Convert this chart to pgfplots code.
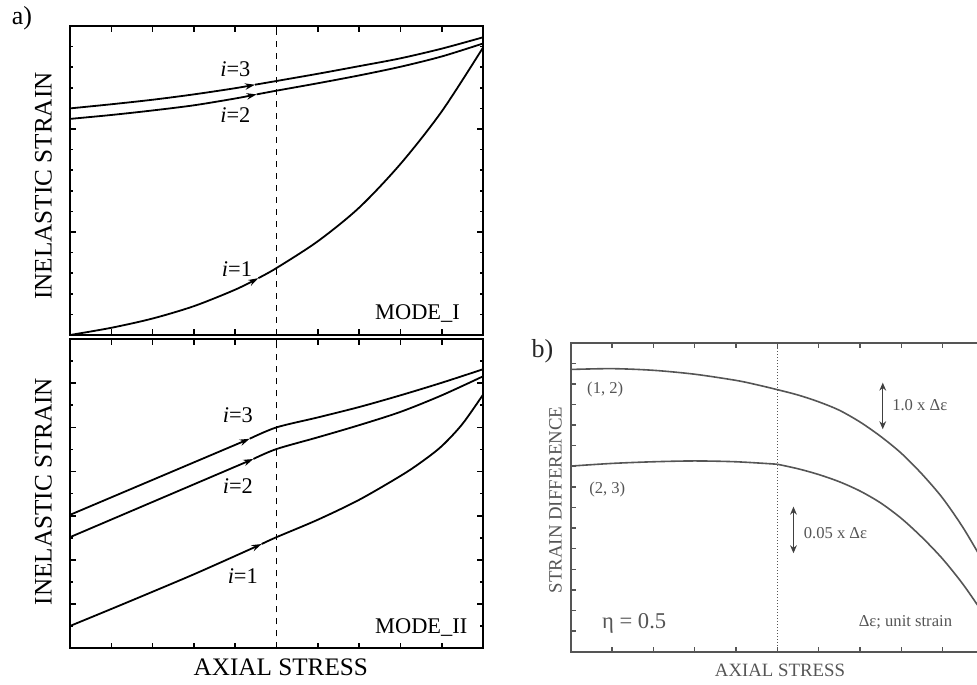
\documentclass[border=0pt]{standalone}
\usepackage{pgfplots}
\pgfplotsset{compat=1.18}
\usepackage{fontspec}
\setmainfont{Liberation Serif}
\usetikzlibrary{arrows.meta}
\definecolor{bgray}{RGB}{85,85,85}
\pgfplotsset{
  common/.style={
    scale only axis, anchor=south west,
    xmin=0, xmax=10, xtick={0,...,10},
    xticklabels={}, yticklabels={},
    tick align=inside,
    every axis plot/.append style={no marks},
  },
  panelA/.style={
    common, width=206.5pt,
    axis line style={line width=1pt, black},
    major tick length=2.8pt, minor tick length=1.7pt,
    every tick/.style={line width=0.8pt, black},
  },
  curveA/.style={black, line width=0.9pt, smooth},
  tipA/.style={-{Stealth[length=5pt,width=3.2pt]}},
}
\tikzset{tipB/.style={{Stealth[length=4pt,width=3.4pt]}-{Stealth[length=4pt,width=3.4pt]}}}
\newcommand{\lab}[1]{{\fontsize{11.2}{13}\selectfont #1}}
\begin{document}
\begin{tikzpicture}
\useasboundingbox (0pt,0pt) rectangle (488.5pt,342pt);
\clip (0pt,0pt) rectangle (488.5pt,342pt);

% ---------------- panel a, top (MODE_I)
\begin{axis}[panelA, at={(35pt,174.5pt)}, height=154.5pt,
  ymin=0, ymax=15, ytick={0,5,10,15},
  minor ytick={1,2,3,4,6,7,8,9,11,12,13,14}]
\addplot[black, line width=0.4pt, dashed] coordinates {(5,0) (5,15)};
% i=3
\addplot[curveA, tipA] coordinates {(0,11.0) (1,11.2) (2,11.42) (3,11.68) (4,11.98) (4.48,12.15)};
\addplot[curveA] coordinates {(4.48,12.15) (5,12.33) (6,12.68) (7,13.05) (8,13.43) (9,13.9) (10,14.45)};
% i=2
\addplot[curveA, tipA] coordinates {(0,10.49) (1,10.68) (2,10.9) (3,11.15) (4,11.48) (4.52,11.68)};
\addplot[curveA] coordinates {(4.52,11.68) (5,11.86) (6,12.22) (7,12.6) (8,13.02) (9,13.52) (10,14.15)};
% i=1
\addplot[curveA, tipA] coordinates {(0,0) (1,0.35) (2,0.8) (3,1.4) (4,2.2) (4.56,2.76)};
\addplot[curveA] coordinates {(4.56,2.76) (5,3.25) (6,4.55) (7,6.18) (8,8.3) (9,10.85) (10,13.95)};
\node[anchor=base west, inner sep=0] at (axis cs:3.63,12.57) {\lab{\textit{i}=3}};
\node[anchor=base west, inner sep=0] at (axis cs:3.63,10.31) {\lab{\textit{i}=2}};
\node[anchor=base west, inner sep=0] at (axis cs:3.67,2.83) {\lab{\textit{i}=1}};
\node[anchor=base west, inner sep=0] at (axis cs:7.38,0.73) {\lab{MODE\_I}};
\end{axis}

% ---------------- panel a, bottom (MODE_II)
\begin{axis}[panelA, at={(35pt,17.85pt)}, height=154.65pt,
  ymin=0, ymax=14, ytick={0,2,...,14},
  minor ytick={1,3,...,13}]
\addplot[black, line width=0.4pt, dashed] coordinates {(5,0) (5,14)};
% i=3
\addplot[black, line width=0.9pt, tipA] coordinates {(0,6.04) (4.35,9.485)};
\addplot[curveA] coordinates {(4.35,9.485) (5,10.0) (6,10.45) (7,10.92) (8,11.45) (9,12.02) (10,12.63)};
% i=2
\addplot[black, line width=0.9pt, tipA] coordinates {(0,5.03) (4.44,8.57)};
\addplot[curveA] coordinates {(4.44,8.57) (5,9.02) (6,9.55) (7,10.1) (8,10.7) (9,11.45) (10,12.31)};
% i=1
\addplot[curveA, tipA] coordinates {(0,1.01) (1,1.78) (2,2.56) (3,3.35) (4,4.18) (4.64,4.72)};
\addplot[curveA] coordinates {(4.64,4.72) (5,5.03) (6,5.82) (7,6.72) (8,7.8) (8.5,8.42) (9,9.15) (9.5,10.15) (10,11.48)};
\node[anchor=base west, inner sep=0] at (axis cs:3.69,10.21) {\lab{\textit{i}=3}};
\node[anchor=base west, inner sep=0] at (axis cs:3.69,7.02) {\lab{\textit{i}=2}};
\node[anchor=base west, inner sep=0] at (axis cs:3.81,2.94) {\lab{\textit{i}=1}};
\node[anchor=base west, inner sep=0] at (axis cs:7.38,0.68) {\lab{MODE\_II}};
\end{axis}

% ---------------- panel b
\begin{axis}[common, at={(285.35pt,16.15pt)}, width=206.65pt, height=154.5pt,
  ymin=0, ymax=15, ytick={0,...,15},
  axis line style={line width=1pt, bgray},
  major tick length=2.5pt,
  every tick/.style={line width=0.7pt, bgray}]
\addplot[bgray, line width=0.5pt, densely dotted] coordinates {(5,0) (5,15)};
\addplot[bgray, line width=0.8pt, smooth] coordinates {(0,13.7) (1,13.74) (2,13.66) (3,13.47) (4,13.17) (4.5,12.96) (5,12.72) (5.5,12.46) (6,12.13) (6.5,11.72) (7,11.15) (7.5,10.45) (8,9.63) (8.5,8.62) (9,7.45) (9.5,6.0) (10,4.3)};
\addplot[bgray, line width=0.8pt, smooth] coordinates {(0,9.01) (1,9.14) (2,9.22) (3,9.26) (4,9.22) (5,9.1)};
\addplot[bgray, line width=0.8pt, smooth] coordinates {(5,9.1) (5.5,8.88) (6,8.6) (6.5,8.25) (7,7.8) (7.5,7.22) (8,6.47) (8.5,5.55) (9,4.5) (9.5,3.25) (10,1.8)};
\draw[black!75, line width=0.6pt, tipB] (axis cs:7.55,13.06) -- (axis cs:7.55,10.8);
\draw[black!75, line width=0.6pt, tipB] (axis cs:5.39,7.04) -- (axis cs:5.39,4.78);
\begin{scope}[every node/.style={anchor=base west, inner sep=0, text=bgray, font=\fontsize{8.3}{10}\selectfont}]
\node at (axis cs:0.39,12.54) {(1, 2)};
\node at (axis cs:0.44,7.69) {(2, 3)};
\node at (axis cs:7.77,11.7) {1.0 x Δε};
\node at (axis cs:5.63,5.5) {0.05 x Δε};
\node at (axis cs:6.96,1.21) {Δε; unit strain};
\end{scope}
\node[anchor=base west, inner sep=0, text=bgray, font=\fontsize{11.3}{13}\selectfont] at (axis cs:0.75,1.13) {η = 0.5};
\end{axis}

% ---------------- labels
\node[font=\fontsize{13}{15}\selectfont, inner sep=0] at (11pt,333pt) {a)};
\node[font=\fontsize{13}{15}\selectfont, inner sep=0, text=black!85] at (271.25pt,166.5pt) {b)};
\node[rotate=90, anchor=base, inner sep=0, font=\fontsize{12.6}{14}\selectfont] at (25.8pt,249pt) {INELASTIC STRAIN};
\node[rotate=90, anchor=base, inner sep=0, font=\fontsize{12.6}{14}\selectfont] at (25.8pt,96.2pt) {INELASTIC STRAIN};
\node[anchor=base, inner sep=0, font=\fontsize{12.6}{14}\selectfont] at (140.4pt,4.5pt) {AXIAL STRESS};
\node[rotate=90, anchor=base, inner sep=0, text=bgray, font=\fontsize{9.4}{11}\selectfont] at (280.8pt,92pt) {STRAIN DIFFERENCE};
\node[anchor=base, inner sep=0, text=bgray, font=\fontsize{9.4}{11}\selectfont] at (390pt,3.67pt) {AXIAL STRESS};
\end{tikzpicture}
\end{document}
